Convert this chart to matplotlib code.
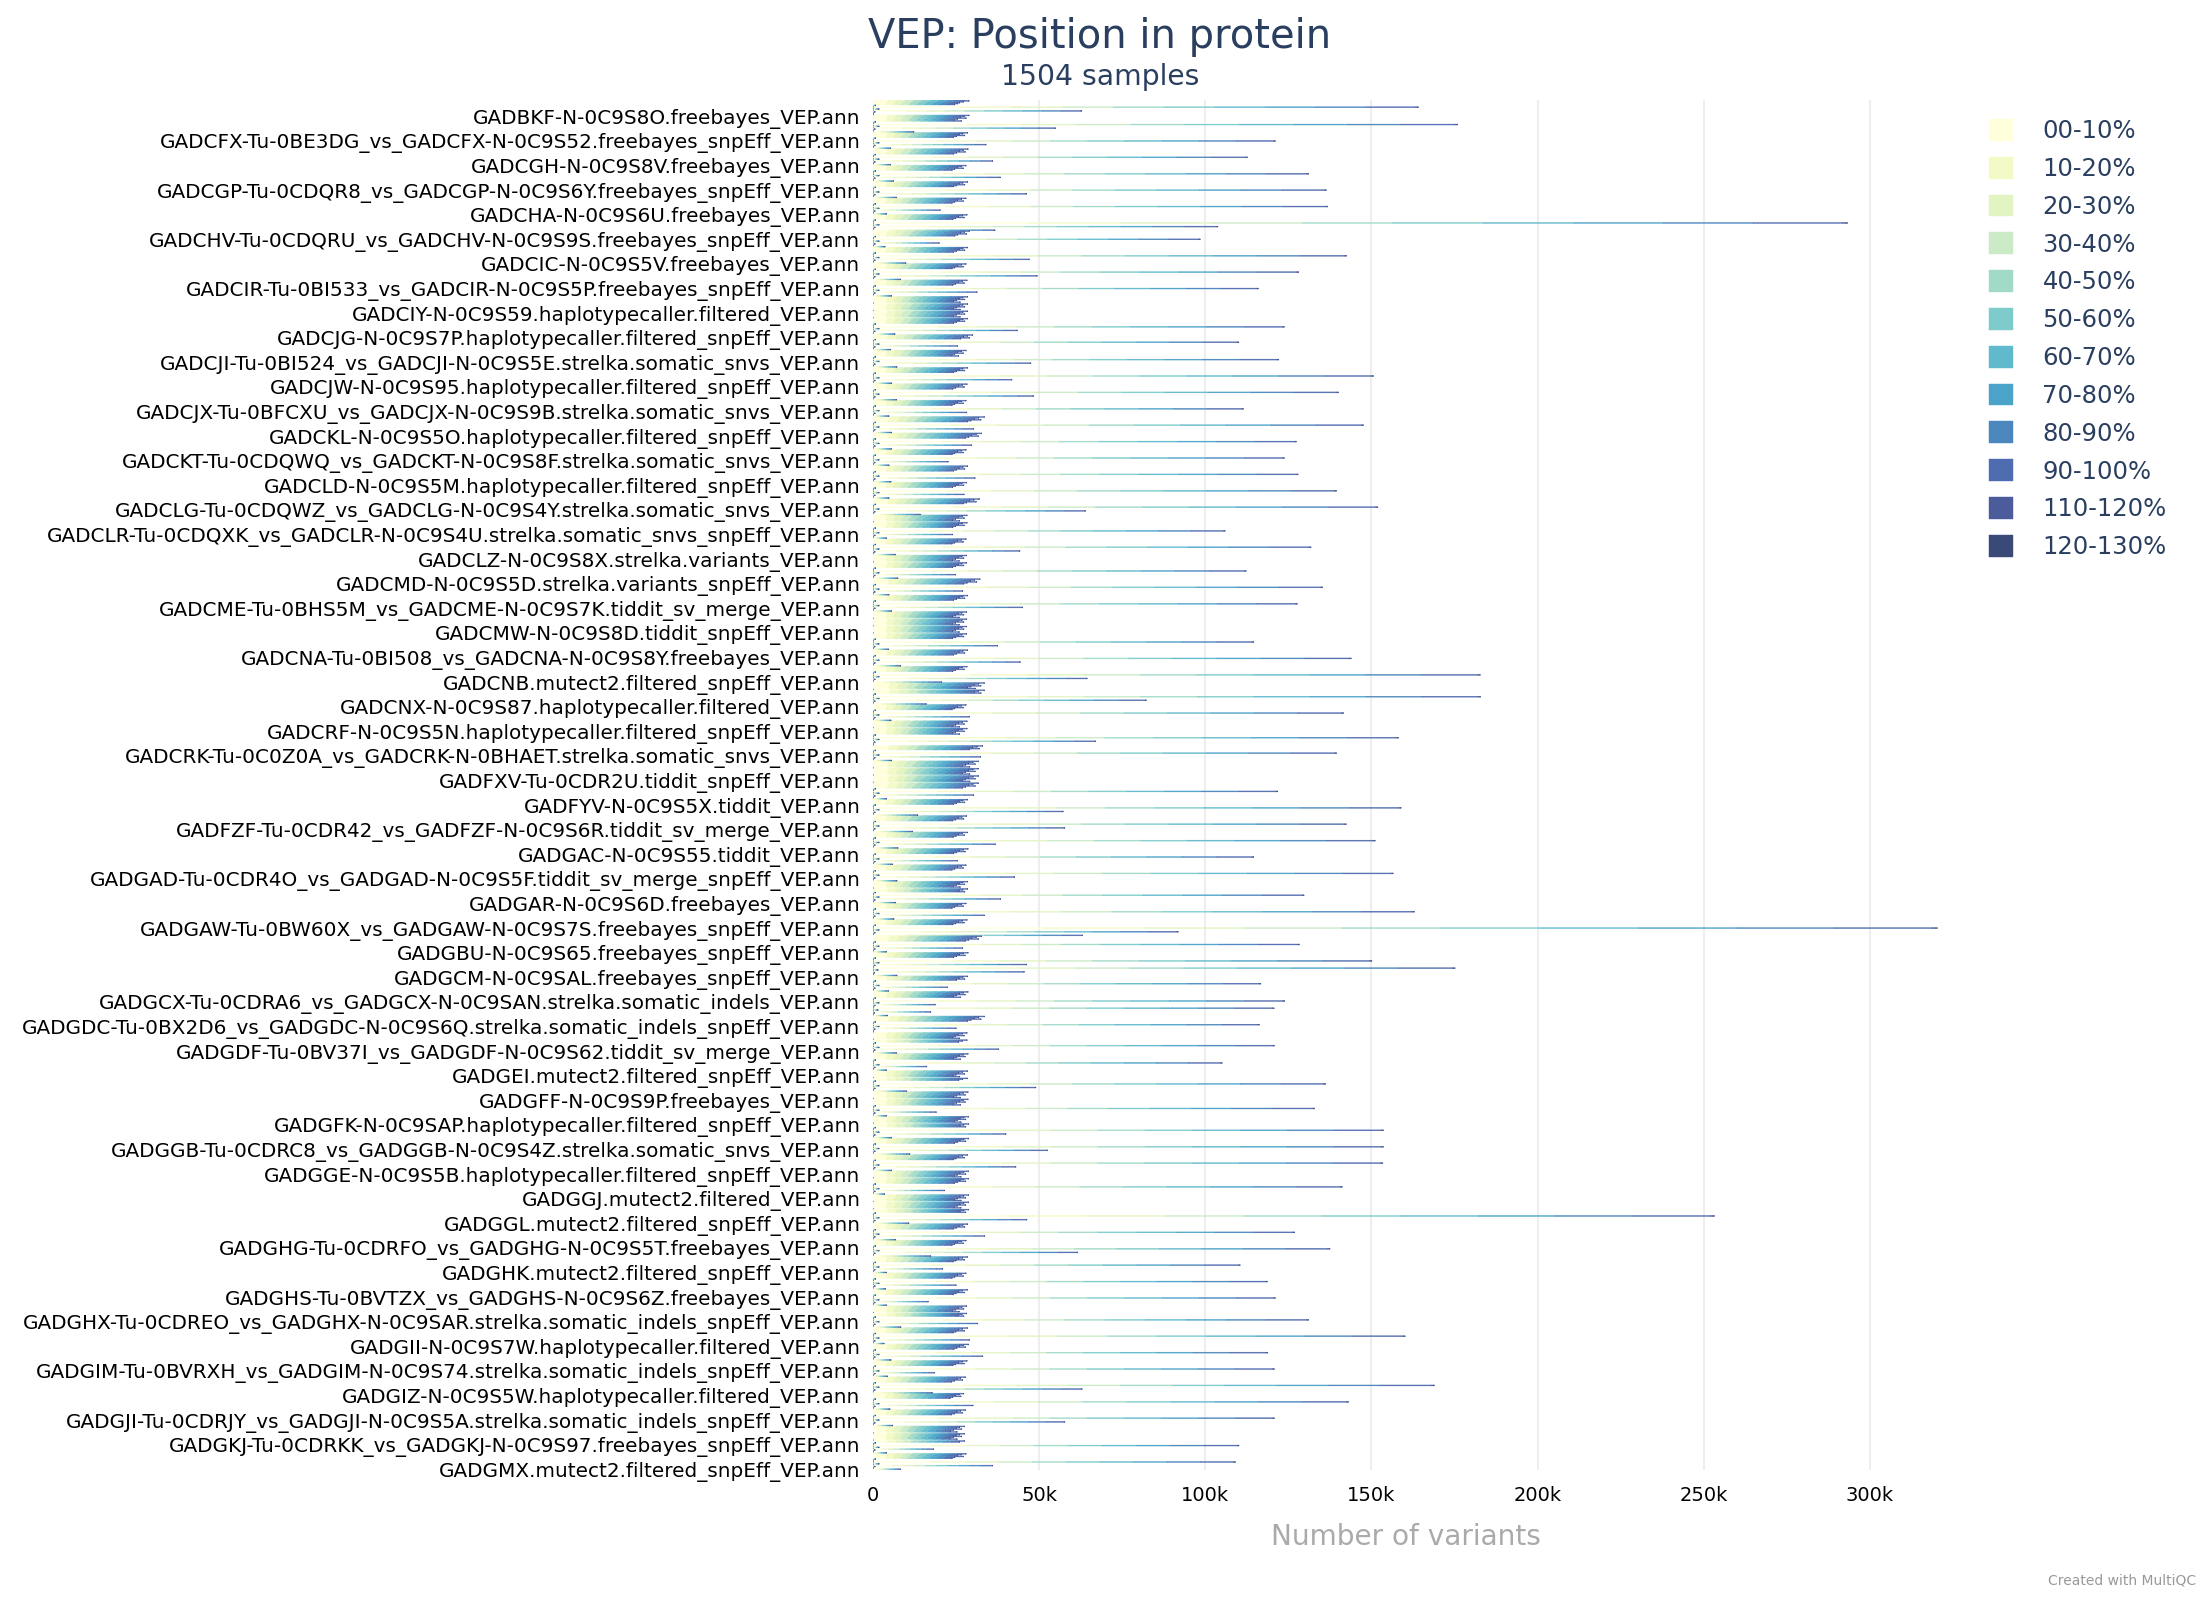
import numpy as np
import matplotlib
matplotlib.use("Agg")
import matplotlib.pyplot as plt

# ---------------- data ----------------
bins = ["00-10%", "10-20%", "20-30%", "30-40%", "40-50%", "50-60%",
        "60-70%", "70-80%", "80-90%", "90-100%", "110-120%", "120-130%"]
colors = ["#ffffdc", "#f3fac6", "#e3f4c3", "#cbebc7", "#a2dac8", "#7ecbcb",
          "#60b9cd", "#4ca3ca", "#4b86bd", "#506cb0", "#4b5b9c", "#3a4a78"]
# share of each position bin in a sample's total
shares = [0.160, 0.095, 0.093, 0.093, 0.093, 0.093,
          0.093, 0.092, 0.092, 0.092, 0.003, 0.002]

tick_labels = [
    "GADBKF-N-0C9S8O.freebayes_VEP.ann",
    "GADCFX-Tu-0BE3DG_vs_GADCFX-N-0C9S52.freebayes_snpEff_VEP.ann",
    "GADCGH-N-0C9S8V.freebayes_VEP.ann",
    "GADCGP-Tu-0CDQR8_vs_GADCGP-N-0C9S6Y.freebayes_snpEff_VEP.ann",
    "GADCHA-N-0C9S6U.freebayes_VEP.ann",
    "GADCHV-Tu-0CDQRU_vs_GADCHV-N-0C9S9S.freebayes_snpEff_VEP.ann",
    "GADCIC-N-0C9S5V.freebayes_VEP.ann",
    "GADCIR-Tu-0BI533_vs_GADCIR-N-0C9S5P.freebayes_snpEff_VEP.ann",
    "GADCIY-N-0C9S59.haplotypecaller.filtered_VEP.ann",
    "GADCJG-N-0C9S7P.haplotypecaller.filtered_snpEff_VEP.ann",
    "GADCJI-Tu-0BI524_vs_GADCJI-N-0C9S5E.strelka.somatic_snvs_VEP.ann",
    "GADCJW-N-0C9S95.haplotypecaller.filtered_snpEff_VEP.ann",
    "GADCJX-Tu-0BFCXU_vs_GADCJX-N-0C9S9B.strelka.somatic_snvs_VEP.ann",
    "GADCKL-N-0C9S5O.haplotypecaller.filtered_snpEff_VEP.ann",
    "GADCKT-Tu-0CDQWQ_vs_GADCKT-N-0C9S8F.strelka.somatic_snvs_VEP.ann",
    "GADCLD-N-0C9S5M.haplotypecaller.filtered_snpEff_VEP.ann",
    "GADCLG-Tu-0CDQWZ_vs_GADCLG-N-0C9S4Y.strelka.somatic_snvs_VEP.ann",
    "GADCLR-Tu-0CDQXK_vs_GADCLR-N-0C9S4U.strelka.somatic_snvs_snpEff_VEP.ann",
    "GADCLZ-N-0C9S8X.strelka.variants_VEP.ann",
    "GADCMD-N-0C9S5D.strelka.variants_snpEff_VEP.ann",
    "GADCME-Tu-0BHS5M_vs_GADCME-N-0C9S7K.tiddit_sv_merge_VEP.ann",
    "GADCMW-N-0C9S8D.tiddit_snpEff_VEP.ann",
    "GADCNA-Tu-0BI508_vs_GADCNA-N-0C9S8Y.freebayes_VEP.ann",
    "GADCNB.mutect2.filtered_snpEff_VEP.ann",
    "GADCNX-N-0C9S87.haplotypecaller.filtered_VEP.ann",
    "GADCRF-N-0C9S5N.haplotypecaller.filtered_snpEff_VEP.ann",
    "GADCRK-Tu-0C0Z0A_vs_GADCRK-N-0BHAET.strelka.somatic_snvs_VEP.ann",
    "GADFXV-Tu-0CDR2U.tiddit_snpEff_VEP.ann",
    "GADFYV-N-0C9S5X.tiddit_VEP.ann",
    "GADFZF-Tu-0CDR42_vs_GADFZF-N-0C9S6R.tiddit_sv_merge_VEP.ann",
    "GADGAC-N-0C9S55.tiddit_VEP.ann",
    "GADGAD-Tu-0CDR4O_vs_GADGAD-N-0C9S5F.tiddit_sv_merge_snpEff_VEP.ann",
    "GADGAR-N-0C9S6D.freebayes_VEP.ann",
    "GADGAW-Tu-0BW60X_vs_GADGAW-N-0C9S7S.freebayes_snpEff_VEP.ann",
    "GADGBU-N-0C9S65.freebayes_snpEff_VEP.ann",
    "GADGCM-N-0C9SAL.freebayes_snpEff_VEP.ann",
    "GADGCX-Tu-0CDRA6_vs_GADGCX-N-0C9SAN.strelka.somatic_indels_VEP.ann",
    "GADGDC-Tu-0BX2D6_vs_GADGDC-N-0C9S6Q.strelka.somatic_indels_snpEff_VEP.ann",
    "GADGDF-Tu-0BV37I_vs_GADGDF-N-0C9S62.tiddit_sv_merge_VEP.ann",
    "GADGEI.mutect2.filtered_snpEff_VEP.ann",
    "GADGFF-N-0C9S9P.freebayes_VEP.ann",
    "GADGFK-N-0C9SAP.haplotypecaller.filtered_snpEff_VEP.ann",
    "GADGGB-Tu-0CDRC8_vs_GADGGB-N-0C9S4Z.strelka.somatic_snvs_VEP.ann",
    "GADGGE-N-0C9S5B.haplotypecaller.filtered_snpEff_VEP.ann",
    "GADGGJ.mutect2.filtered_VEP.ann",
    "GADGGL.mutect2.filtered_snpEff_VEP.ann",
    "GADGHG-Tu-0CDRFO_vs_GADGHG-N-0C9S5T.freebayes_VEP.ann",
    "GADGHK.mutect2.filtered_snpEff_VEP.ann",
    "GADGHS-Tu-0BVTZX_vs_GADGHS-N-0C9S6Z.freebayes_VEP.ann",
    "GADGHX-Tu-0CDREO_vs_GADGHX-N-0C9SAR.strelka.somatic_indels_snpEff_VEP.ann",
    "GADGII-N-0C9S7W.haplotypecaller.filtered_VEP.ann",
    "GADGIM-Tu-0BVRXH_vs_GADGIM-N-0C9S74.strelka.somatic_indels_snpEff_VEP.ann",
    "GADGIZ-N-0C9S5W.haplotypecaller.filtered_VEP.ann",
    "GADGJI-Tu-0CDRJY_vs_GADGJI-N-0C9S5A.strelka.somatic_indels_snpEff_VEP.ann",
    "GADGKJ-Tu-0CDRKK_vs_GADGKJ-N-0C9S97.freebayes_snpEff_VEP.ann",
    "GADGMX.mutect2.filtered_snpEff_VEP.ann",
]
n_samples = 1504
label_first_row = 18   # row index of the first labelled sample
label_every = 27       # one label every 27 samples

# totals in thousands of variants; samples come in sorted runs ("groups")
lead_k = [27.6, 28.9, 27.2, 26.1, 25.4, 24.6, 0.8, 0.0]
group_rows = [19, 18, 18, 18, 18, 18, 18, 18, 18, 18,
              18, 42, 17, 19, 18, 18, 18, 18, 18, 18,
              18, 18, 18, 26, 18, 26, 18, 18, 42, 18,
              18, 24, 18, 27, 17, 42, 18, 18, 18, 18,
              18, 24, 18, 18, 18, 18, 25, 19, 26, 23,
              19, 23, 27, 24, 18, 18, 26, 32, 18, 18,
              18, 18, 18, 24, 18, 18, 18, 18, 18, 18,
              30, 18, 9]
long_k = [164, 175.8, 121, 112.6, 131, 136.3, 136.7, 293, 98.4, 142.4,
          128, 115.9, 123.7, 110, 122, 150.5, 140, 111.4, 147.5, 127.3,
          123.7, 127.8, 139.4, 151.8, 105.9, 131.7, 112.2, 135.2, 127.6, 114.5,
          143.8, 182.6, 182.7, 141.5, 158, 139.4, 121.7, 158.8, 142.3, 151,
          114.5, 156.4, 129.6, 162.8, 320, 128.2, 150, 116.6, 123.8, 116.2,
          120.7, 105, 136.1, 132.8, 153.5, 153.5, 153.3, 141.1, 253, 126.8,
          137.4, 110.4, 118.6, 121, 131, 160, 118.7, 120.7, 168.8, 143,
          120.7, 110, 109]
mid_k = [62.8, 54.9, 34, 36, 38.3, 46.2, 20.2, 103.7, 19.9, 47,
         49.4, 31.3, 43.4, 25.4, 47.5, 41.8, 48.3, 28.2, 30.3, 29.7,
         22.6, 30.7, 27.4, 63.9, 24, 44.2, 24.9, 27, 45, 37.5,
         44.3, 64.4, 82.2, 29, 67, 32.4, 30.3, 57.2, 57.7, 36.8,
         25.4, 42.6, 38.4, 33.5, 91.8, 27, 46.2, 22.4, 18.7, 25,
         37.8, 16.2, 49, 19, 40, 52.5, 43, 21.5, 46.3, 33.6,
         61.6, 21, 25, 16.6, 31.5, 29, 33, 18.5, 62.9, 30.1,
         57.7, 18.2, 36]
small_k = [0, 12.3, 5.2, 5.2, 6.2, 7, 4.1, 36.7, 3.6, 9.9,
           8.2, 5.6, 6.6, 5.2, 7.2, 5.6, 7, 4.8, 5.5, 5.5,
           4.8, 5.4, 4.8, 14.2, 4, 6.7, 7.5, 4.8, 5.6, 4.6,
           8.3, 20.6, 16, 5.4, 0, 5.6, 4.1, 13.5, 11.9, 7.5,
           5.8, 7.2, 6.8, 6.3, 63, 4, 7.2, 4.6, 4.3, 0,
           7, 4, 10, 4, 5.6, 11.1, 5.6, 3.5, 10.8, 6.8,
           17.4, 4, 3.7, 4, 8.4, 3.3, 5.4, 4.3, 17.8, 5.1,
           5.9, 4.1, 8.2]
second_pair_k = {46: (175.0, 45.5), 48: (120.6, 17.4)}
short_max_k = [28.9, 28.5, 28.6, 28, 28.5, 28, 28.3, 29, 28.5, 28,
               28.3, 28.5, 30, 28, 28.5, 28.3, 28, 33.5, 32.7, 28,
               28.5, 28.2, 32, 28.3, 28, 28.2, 32.2, 28.5, 28.2, 28.5,
               28.3, 33.5, 28, 28.3, 33, 31.7, 28.5, 28.2, 28.4, 28.6,
               28, 28.5, 28, 28.3, 32.7, 28.6, 28.5, 28.6, 33.5, 28.3,
               28.6, 28.4, 28.6, 28.8, 28.8, 28.4, 28.8, 28.8, 28.5, 28,
               28.4, 28, 28.4, 28.2, 28.4, 28.7, 28.3, 27.8, 27.3, 27.8,
               27.5, 28, 28]
short_pattern = [1.0, 0.95, 0.91, 0.97, 0.88, 0.85, 0.92, 0.0]
tail_k = [0.8, 0.0, 0.0]

# ---------------- build the table ----------------
totals = list(lead_k)
for g, n in enumerate(group_rows):
    head = [long_k[g], 0.0, 1.8, 0.0, mid_k[g], 0.6, 0.0, 0.0]
    if g in second_pair_k:
        l2, m2 = second_pair_k[g]
        head += [l2, 0.0, 1.5, 0.0, m2, 0.5, 0.0, 0.0]
    head += [small_k[g]]
    head = head[:n]
    rest = n - len(head)
    if rest >= len(tail_k):
        body = [short_max_k[g] * short_pattern[i % len(short_pattern)]
                for i in range(rest - len(tail_k))] + tail_k
    else:
        body = tail_k[:rest]
    totals += head + body
totals = np.array(totals[:n_samples]) * 1000.0
values = np.outer(totals, np.array(shares))

# ---------------- figure ----------------
W, H = 2200, 1600
fig = plt.figure(figsize=(W / 100, H / 100), dpi=100)
ax_l, ax_r, ax_t, ax_b = 873, 1953, 99.5, 1469.7
ax = fig.add_axes([ax_l / W, 1 - ax_b / H, (ax_r - ax_l) / W, (ax_b - ax_t) / H])

y = np.arange(n_samples)
left = np.zeros(n_samples)
handles = []
for i, name in enumerate(bins):
    h = ax.barh(y, values[:, i], left=left, height=1.0, color=colors[i],
                edgecolor=colors[i], linewidth=0.3, label=name, zorder=2)
    for p in h.patches:
        p.set_snap(False)
    handles.append(h)
    left += values[:, i]

ax.set_ylim(n_samples - 0.5, -0.5)
ax.set_xlim(0, 325000)
xt = [0, 50000, 100000, 150000, 200000, 250000, 300000]
ax.set_xticks(xt)
ax.set_xticklabels(["0", "50k", "100k", "150k", "200k", "250k", "300k"])
ax.set_yticks([label_first_row + label_every * k for k in range(len(tick_labels))])
ax.set_yticklabels(tick_labels)
ax.tick_params(axis="x", length=0, pad=12, labelsize=14, labelcolor="#000000")
ax.tick_params(axis="y", length=0, pad=9, labelsize=14.4, labelcolor="#000000")
ax.grid(axis="x", color="#eeeeee", linewidth=1.5, zorder=0)
ax.set_axisbelow(True)
for s in ax.spines.values():
    s.set_visible(False)

navy = "#2a3f5f"
fig.text(1100 / W, 1 - 48 / H, "VEP: Position in protein", ha="center",
         va="baseline", fontsize=28.8, color=navy)
fig.text(1100 / W, 1 - 85 / H, "1504 samples", ha="center", va="baseline",
         fontsize=20.3, color=navy)
fig.text(1406 / W, 1 - 1545 / H, "Number of variants", ha="center",
         va="baseline", fontsize=20.2, color="#aaaaaa")
fig.text(2196 / W, 1 - 1585 / H, "Created with MultiQC", ha="right",
         va="baseline", fontsize=10, color="#999999")

fig.legend(handles=handles, labels=bins, loc="upper left",
           bbox_to_anchor=(1989 / W, 1 - 119 / H), frameon=False,
           borderpad=0, borderaxespad=0, handlelength=1.0, handleheight=1.0,
           handletextpad=1.2, labelspacing=0.56, fontsize=17.5,
           labelcolor=navy)

fig.savefig("out.png", dpi=100)
